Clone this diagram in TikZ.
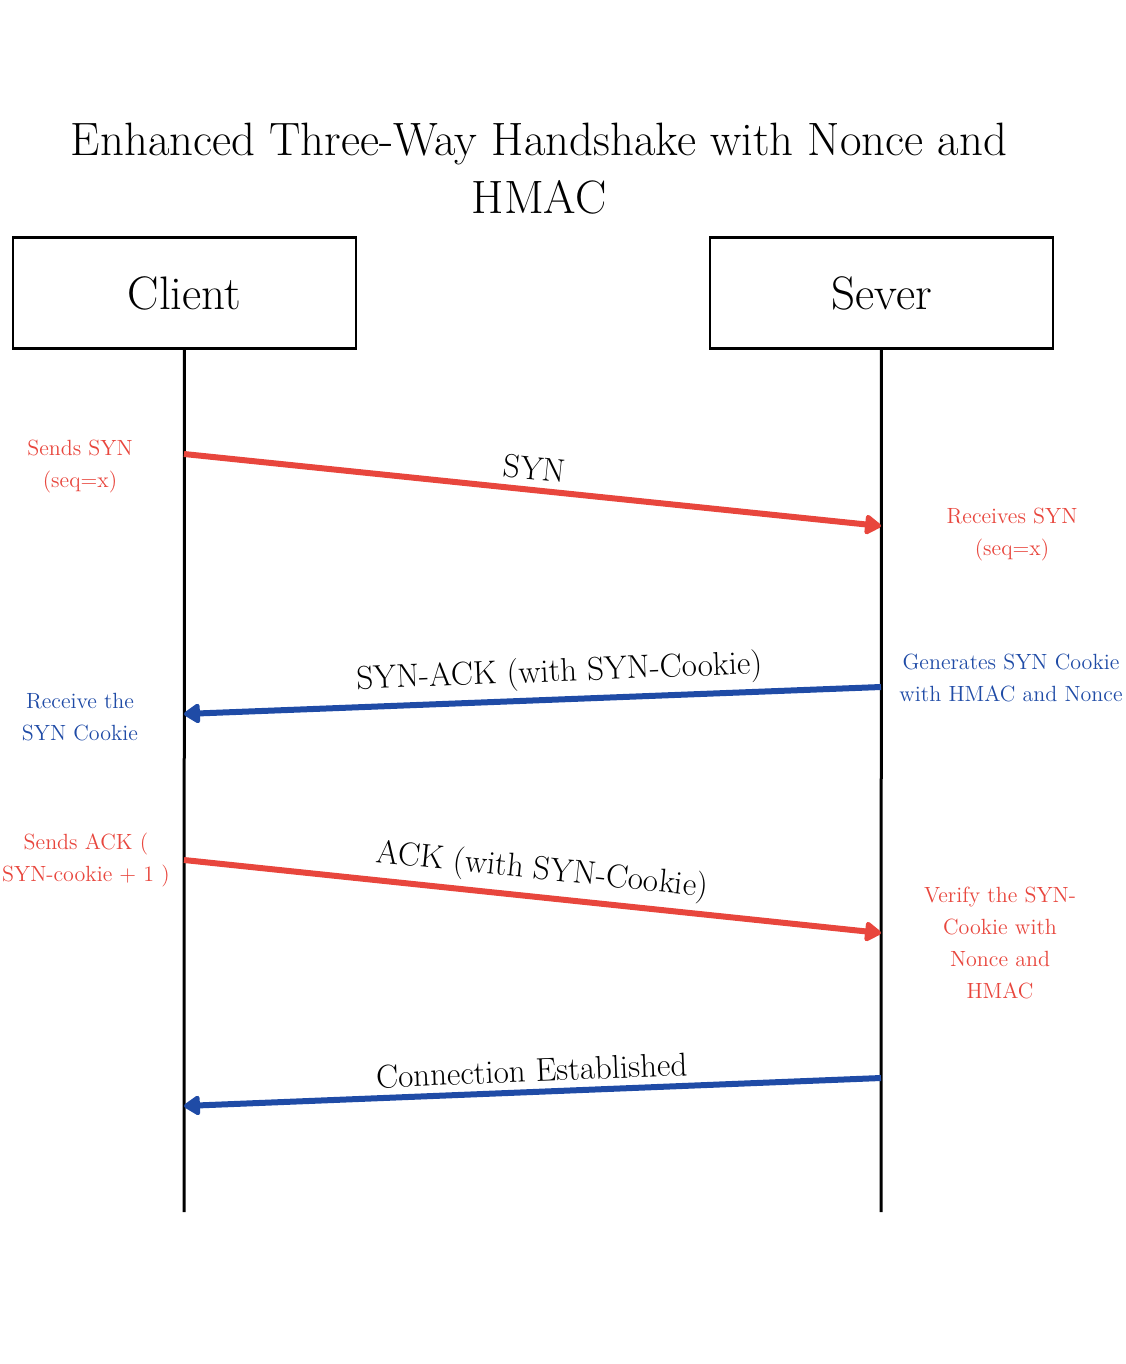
\documentclass[tikz,border=0pt]{standalone}
\usetikzlibrary{arrows.meta}
\definecolor{msgred}{HTML}{E8463D}
\definecolor{msgblue}{HTML}{1F4BA6}
\begin{document}
\begin{tikzpicture}[x=0.5pt, y=-0.5pt, >={Triangle[length=9pt, width=11pt, round]}]
    \tikzstyle{party}=[draw, line width=1.2pt, minimum width=171.5pt, minimum height=55.5pt, font=\fontsize{23.5}{28}\selectfont]
    \tikzstyle{msg}=[line width=3pt, ->]
    \tikzstyle{msglabel}=[font=\fontsize{16.5}{20}\selectfont, sloped, above]
    \tikzstyle{note}=[align=center, font=\fontsize{11}{16}\selectfont]
    \useasboundingbox (0,0) rectangle (1125,1364);

    % draw title
    \node [align=center, font=\fontsize{23.4}{29}\selectfont] (title) at (539,169) {Enhanced Three-Way Handshake with Nonce and\\HMAC};

    % draw parties
    \node [party] (client) at (184.5,293) {Client};
    \node [party] (server) at (881.5,293) {Sever};
    \coordinate (client-end) at (184,1212);
    \coordinate (server-end) at (881,1212);
    \draw [line width=1.5pt] (client) -- (client-end);
    \draw [line width=1.5pt] (server) -- (server-end);

    % points on the lifelines
    \foreach \n/\y in {1/454,2/714,3/860,4/1106}
    \coordinate (c\n) at (184,\y);
    \foreach \n/\y in {1/526,2/687,3/933,4/1078}
    \coordinate (s\n) at (881,\y);

    % draw messages
    \draw [msg, msgred] (c1) -- (s1) node [msglabel, black, pos=0.5] {SYN};
    \draw [msg, msgblue] (s2) -- (c2) node [msglabel, black, pos=0.46] {SYN-ACK (with SYN-Cookie)};
    \draw [msg, msgred] (c3) -- (s3) node [msglabel, black, pos=0.51] {ACK (with SYN-Cookie)};
    \draw [msg, msgblue] (s4) -- (c4) node [msglabel, black, pos=0.5] {Connection Established};

    % draw notes
    \node [note, msgred] (note-c1) at (80,467) {Sends SYN\\(seq=x)};
    \node [note, msgred] (note-s1) at (1012,535) {Receives SYN\\(seq=x)};
    \node [note, msgblue] (note-s2) at (1011,678) {Generates SYN Cookie\\with HMAC and Nonce};
    \node [note, msgblue] (note-c2) at (80,717) {Receive the\\SYN Cookie};
    \node [note, msgred] (note-c3) at (86,860) {Sends ACK (\\SYN-cookie + 1 )};
    \node [note, msgred] (note-s3) at (1000,943) {Verify the SYN-\\Cookie with\\Nonce and\\HMAC};
\end{tikzpicture}
\end{document}
